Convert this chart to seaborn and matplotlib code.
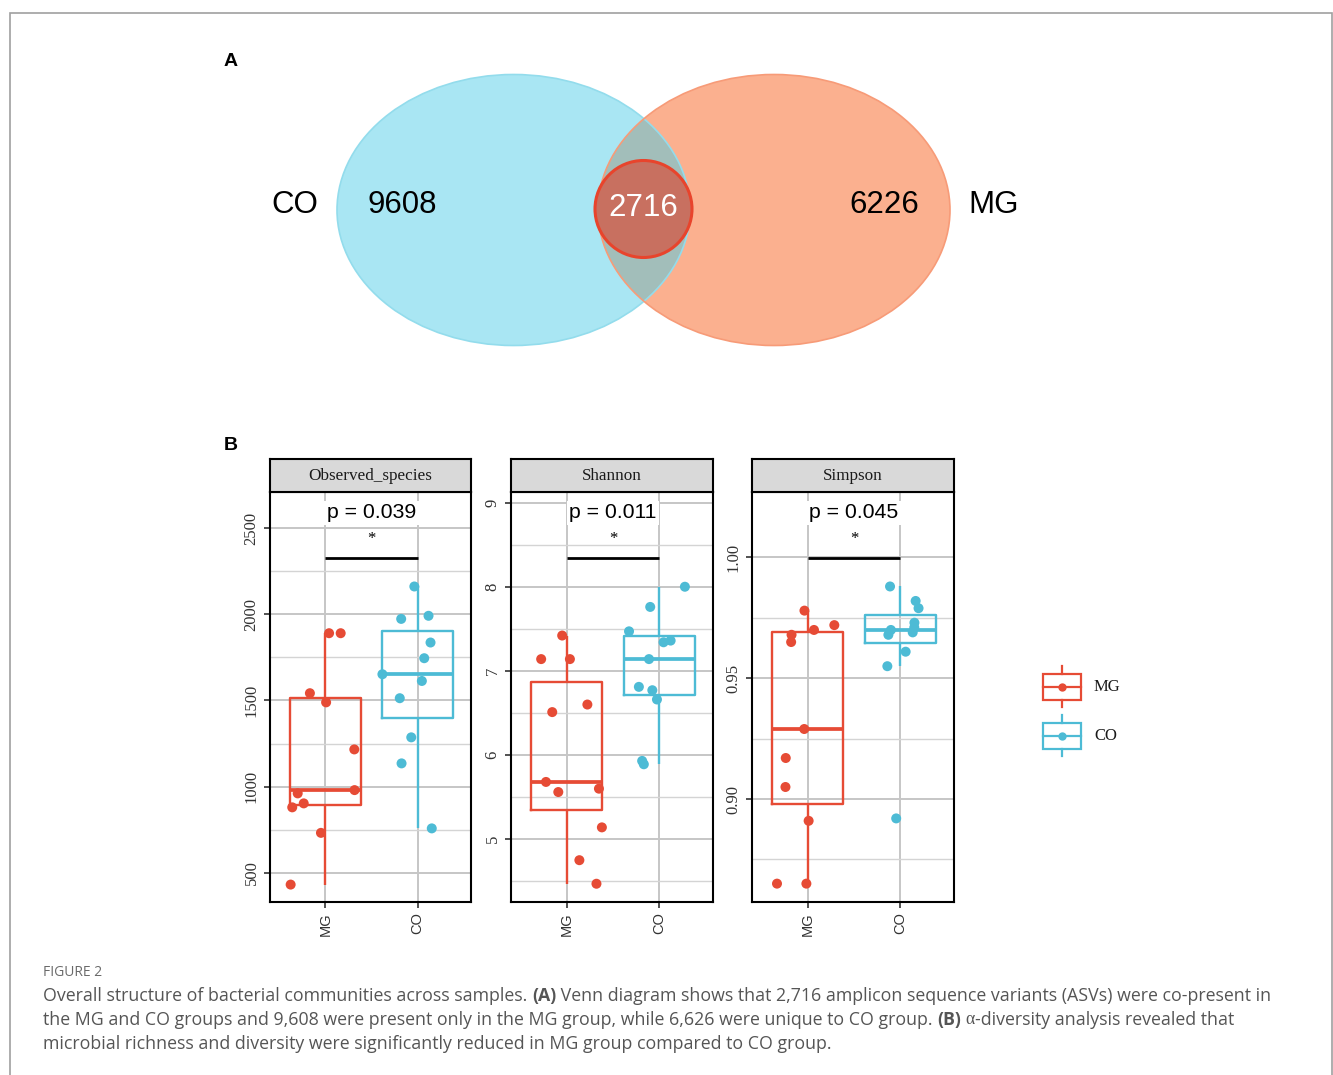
import numpy as np
import pandas as pd
import matplotlib
matplotlib.use("Agg")
import matplotlib.pyplot as plt
import seaborn as sns
from matplotlib.patches import Ellipse, Rectangle
from matplotlib.ticker import FixedLocator, FixedFormatter

# ---------------- data ----------------
# Venn diagram: ASV counts
venn_names = ["CO", "MG"]
venn_only_co = 9608
venn_shared = 2716
venn_only_mg = 6226

# alpha diversity per sample
groups = ["MG", "CO"]
metrics = ["Observed_species", "Shannon", "Simpson"]
observed_mg = [1890, 1890, 1542, 1489, 1216, 980, 961, 903, 880, 732, 432]
observed_co = [2161, 1991, 1973, 1836, 1745, 1652, 1613, 1513, 1286, 1135, 758]
shannon_mg = [7.42, 7.14, 7.14, 6.60, 6.51, 5.68, 5.56, 5.60, 5.14, 4.75, 4.47]
shannon_co = [8.00, 7.76, 7.47, 7.36, 7.34, 7.14, 6.81, 6.77, 6.66, 5.93, 5.89]
simpson_mg = [0.978, 0.972, 0.970, 0.968, 0.965, 0.929, 0.917, 0.905, 0.891, 0.865, 0.865]
simpson_co = [0.988, 0.982, 0.979, 0.973, 0.971, 0.970, 0.969, 0.968, 0.961, 0.955, 0.892]
p_labels = ["p = 0.039", "p = 0.011", "p = 0.045"]
sig_marks = ["*", "*", "*"]

# axis settings per metric
y_limits = [(331, 2709), (4.253, 9.126), (0.8574, 1.0271)]
y_major = [[500, 1000, 1500, 2000, 2500], [5, 6, 7, 8, 9], [0.90, 0.95, 1.00]]
y_minor = [[750, 1250, 1750, 2250], [4.5, 5.5, 6.5, 7.5, 8.5], [0.875, 0.925, 0.975]]
y_ticklabels = [["500", "1000", "1500", "2000", "2500"],
                ["5", "6", "7", "8", "9"],
                ["0.90", "0.95", "1.00"]]

palette = {"MG": "#E64B35", "CO": "#4DBBD5"}

frames = []
for name, mg, co in zip(metrics,
                        [observed_mg, shannon_mg, simpson_mg],
                        [observed_co, shannon_co, simpson_co]):
    frames.append(pd.DataFrame({"metric": name,
                                "group": ["MG"] * len(mg) + ["CO"] * len(co),
                                "value": list(mg) + list(co)}))
df = pd.concat(frames, ignore_index=True)

# ---------------- figure ----------------
W, H = 1333, 1075
fig = plt.figure(figsize=(W / 100, H / 100), dpi=100)

SERIF = ["Liberation Serif", "DejaVu Serif"]
SANS = ["Liberation Sans", "DejaVu Sans"]
CAP = ["Open Sans", "DejaVu Sans"]


def px_axes(x0, y0, x1, y1, **kw):
    return fig.add_axes([x0 / W, 1 - y1 / H, (x1 - x0) / W, (y1 - y0) / H], **kw)


# overlay in pixel units for the Venn diagram, legend, caption and frame
ov = fig.add_axes([0, 0, 1, 1])
ov.set_xlim(0, W)
ov.set_ylim(H, 0)
ov.axis("off")

# page frame
ov.plot([9.5, 9.5, 1331.5, 1331.5], [H, 12.5, 12.5, H], color="#a0a0a0", lw=1.2,
        solid_joinstyle="miter")

# ---------------- A: Venn ----------------
ov.text(224, 62, "A", fontsize=14, fontweight="bold", family=SANS, va="center", ha="left")
cy = 210
blue = Ellipse((513.5, cy), 353, 271, facecolor="#A9E6F3", edgecolor="none", zorder=2)
orange = Ellipse((774, cy), 352, 271, facecolor="#FBB08F", edgecolor="none", zorder=2)
ov.add_patch(blue)
ov.add_patch(orange)
overlap = Ellipse((774, cy), 352, 271, facecolor="#A2BEBA", edgecolor="none", zorder=3)
ov.add_patch(overlap)
overlap.set_clip_path(blue)
ov.add_patch(Ellipse((513.5, cy), 353, 271, facecolor="none", edgecolor="#93DCEC", lw=1.2, zorder=4))
ov.add_patch(Ellipse((774, cy), 352, 271, facecolor="none", edgecolor="#F79B78", lw=1.2, zorder=4))
ov.add_patch(Ellipse((643.5, cy - 1), 97, 97, facecolor="#C87060", edgecolor="#E8442C", lw=2.2, zorder=5))

vfont = dict(fontsize=22.5, family=SANS, va="center", ha="center", zorder=6)
ov.text(295, 205, venn_names[0], color="black", **vfont)
ov.text(402, 205, f"{venn_only_co}", color="black", **vfont)
ov.text(643.5, 208, f"{venn_shared}", color="white", **vfont)
ov.text(884, 205, f"{venn_only_mg}", color="black", **vfont)
ov.text(994, 205, venn_names[1], color="black", **vfont)

# ---------------- B: alpha diversity ----------------
ov.text(224, 446, "B", fontsize=14, fontweight="bold", family=SANS, va="center", ha="left")

panel_x = [(270, 471), (511, 713), (752, 954)]
np.random.seed(3)
for i, metric in enumerate(metrics):
    x0, x1 = panel_x[i]
    ax = px_axes(x0, 492, x1, 902)
    sub = df[df["metric"] == metric]

    sns.boxplot(data=sub, x="group", y="value", hue="group", order=groups,
                hue_order=groups, palette=palette, saturation=1, fill=False,
                width=0.77, linewidth=1.7, showfliers=False, showcaps=False,
                medianprops={"linewidth": 2.7}, legend=False, ax=ax, zorder=3)
    sns.stripplot(data=sub, x="group", y="value", hue="group", order=groups,
                  hue_order=groups, palette=palette, jitter=0.4, size=7.2,
                  linewidth=0, legend=False, ax=ax, zorder=4)

    ax.set_xlim(-0.6, 1.58)
    ax.set_ylim(*y_limits[i])
    ax.yaxis.set_major_locator(FixedLocator(y_major[i]))
    ax.yaxis.set_major_formatter(FixedFormatter(y_ticklabels[i]))
    ax.yaxis.set_minor_locator(FixedLocator(y_minor[i]))
    ax.set_axisbelow(True)
    ax.grid(axis="y", which="major", color="#c6c6c6", lw=1.4)
    ax.grid(axis="y", which="minor", color="#d4d4d4", lw=1.0)
    ax.grid(axis="x", which="major", color="#c6c6c6", lw=1.4)
    ax.tick_params(axis="y", which="minor", length=0)
    ax.tick_params(axis="both", which="major", length=4, width=1.2, color="#333333",
                   labelcolor="#333333")
    for lab in ax.get_yticklabels():
        lab.set_rotation(90)
        lab.set_va("center")
        lab.set_family(SERIF)
        lab.set_fontsize(12)
    ax.set_xticks([0, 1])
    ax.set_xticklabels(groups, rotation=90, family=SANS, fontsize=10.5, va="top")
    ax.set_xlabel("")
    ax.set_ylabel("")
    for s in ax.spines.values():
        s.set_color("black")
        s.set_linewidth(1.5)

    # significance bracket and test result
    tr = ax.get_xaxis_transform()
    ax.plot([0, 1], [0.838, 0.838], transform=tr, color="black", lw=2, zorder=5,
            solid_capstyle="butt")
    ax.text(0.5, 0.885, sig_marks[i], transform=tr, ha="center", va="center",
            fontsize=12, family=SERIF, zorder=5)
    ax.text(0.5, 0.949, p_labels[i], transform=tr, ha="center", va="center",
            fontsize=15.3, family=SANS, zorder=5,
            bbox=dict(boxstyle="square,pad=0.12", fc="white", ec="none"))

    # facet strip
    sx = px_axes(x0, 459, x1, 492)
    sx.set_facecolor("#d9d9d9")
    sx.set_xticks([])
    sx.set_yticks([])
    for s in sx.spines.values():
        s.set_color("black")
        s.set_linewidth(1.5)
    sx.text(0.5, 0.47, metric, transform=sx.transAxes, ha="center", va="center",
            fontsize=12.3, family=SERIF, color="#1a1a1a")

# legend glyphs
for grp, yc in zip(groups, [687, 736]):
    c = palette[grp]
    ov.add_patch(Rectangle((1043, yc - 13), 38, 26, facecolor="none", edgecolor=c, lw=1.6))
    ov.plot([1043, 1081], [yc, yc], color=c, lw=1.6)
    ov.plot([1062, 1062], [yc - 21, yc - 13], color=c, lw=1.6)
    ov.plot([1062, 1062], [yc + 13, yc + 20], color=c, lw=1.6)
    ov.plot([1062], [yc], marker="o", ms=6, color=c, mec="none")
    ov.text(1094, yc, grp, fontsize=12, family=SERIF, va="center", ha="left", color="#1a1a1a")

# ---------------- caption ----------------
ov.text(43, 972, "FIGURE 2", fontsize=10, family=CAP, color="#6a6a6a", va="center", ha="left")
cap_color = "#555555"
lines = [
    [("Overall structure of bacterial communities across samples. ", "normal", CAP),
     ("(A)", "bold", CAP),
     (" Venn diagram shows that 2,716 amplicon sequence variants (ASVs) were co-present in", "normal", CAP)],
    [("the MG and CO groups and 9,608 were present only in the MG group, while 6,626 were unique to CO group. ", "normal", CAP),
     ("(B)", "bold", CAP),
     (" ", "normal", CAP),
     ("\u03b1", "normal", SERIF),
     ("-diversity analysis revealed that", "normal", CAP)],
    [("microbial richness and diversity were significantly reduced in MG group compared to CO group.", "normal", CAP)],
]
fig.canvas.draw()
renderer = fig.canvas.get_renderer()
for row, segs in enumerate(lines):
    x = 43
    y = 996 + row * 24
    for txt, weight, fam in segs:
        t = ov.text(x, y, txt, fontsize=12.8, family=fam, fontweight=weight,
                    color=cap_color, va="center", ha="left")
        bb = t.get_window_extent(renderer=renderer)
        x += bb.width

fig.savefig("out.png", dpi=100)
